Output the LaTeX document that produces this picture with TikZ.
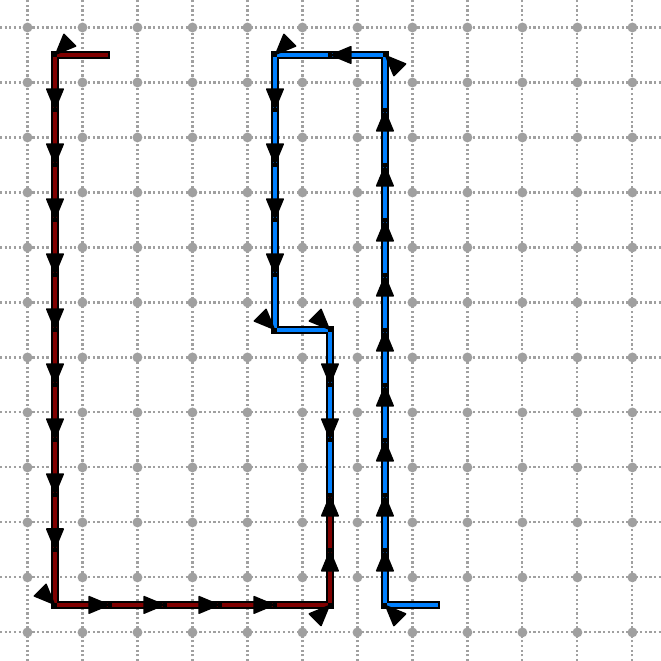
\documentclass[tikz,border=0pt]{standalone}
\usetikzlibrary{calc}

\definecolor{pathred}{RGB}{128,0,0}
\definecolor{pathblue}{RGB}{0,128,255}
\definecolor{gridgray}{RGB}{160,160,160}

\begin{document}
\begin{tikzpicture}[
    gridline/.style={gridgray, line width=1.1pt, dash pattern=on 1.1pt off 1.3pt},
    griddot/.style={circle, fill=gridgray, inner sep=0pt, minimum size=0.18cm},
    outline/.style={black, line width=4pt},
    redline/.style={pathred, line width=1.8pt, shorten <=0.035cm, shorten >=0.035cm},
    blueline/.style={pathblue, line width=1.8pt, shorten <=0.035cm, shorten >=0.035cm},
    pathtip/.pic={\filldraw[black, line width=0.8pt, line join=round]
        (-0.02,0) -- (-0.38,0.15) -- (-0.38,-0.15) -- cycle;}
]

\useasboundingbox (0,-0.02) rectangle (12.02,12);

% Grid
\foreach \k in {0,...,11} {
    \draw[gridline] (\k+0.5,-0.02) -- (\k+0.5,12);
    \draw[gridline] (0,\k+0.5) -- (12.02,\k+0.5);
}
\foreach \i in {0,...,11}
    \foreach \j in {0,...,11}
        \node[griddot] (dot-\i-\j) at (\i+0.5,\j+0.5) {};

% Corners
\coordinate (redstart) at (2,11);
\coordinate (redtl) at (1,11);
\coordinate (redbl) at (1,1);
\coordinate (redbr) at (6,1);
\coordinate (meet) at (6,3);
\coordinate (bluestart) at (8,1);
\coordinate (bluebr) at (7,1);
\coordinate (bluetr) at (7,11);
\coordinate (bluetl) at (5,11);
\coordinate (bluemidl) at (5,6);
\coordinate (bluemidr) at (6,6);

% Blue path
\draw[outline] (bluestart) -- (bluebr) -- (bluetr) -- (bluetl) -- (bluemidl) -- (bluemidr) -- (meet);
\draw[blueline] (bluestart) -- (bluebr);
\foreach \y in {1,...,10}
    \draw[blueline] (7,\y) -- (7,\y+1);
\foreach \x in {7,6}
    \draw[blueline] (\x,11) -- (\x-1,11);
\foreach \y in {11,...,7}
    \draw[blueline] (5,\y) -- (5,\y-1);
\draw[blueline] (bluemidl) -- (bluemidr);
\foreach \y in {6,5,4}
    \draw[blueline] (6,\y) -- (6,\y-1);

\pic[rotate=135] at (bluebr) {pathtip};
\foreach \y in {2,...,10}
    \pic[rotate=90] at (7,\y) {pathtip};
\pic[rotate=135] at (bluetr) {pathtip};
\pic[rotate=180] at (6,11) {pathtip};
\pic[rotate=-135] at (bluetl) {pathtip};
\foreach \y in {10,...,7}
    \pic[rotate=-90] at (5,\y) {pathtip};
\pic[rotate=-45] at (bluemidl) {pathtip};
\pic[rotate=-45] at (bluemidr) {pathtip};
\foreach \y in {5,4}
    \pic[rotate=-90] at (6,\y) {pathtip};

% Red path
\draw[outline] (redstart) -- (redtl) -- (redbl) -- (redbr) -- (meet);
\draw[redline] (redstart) -- (redtl);
\foreach \y in {11,...,2}
    \draw[redline] (1,\y) -- (1,\y-1);
\foreach \x in {1,...,5}
    \draw[redline] (\x,1) -- (\x+1,1);
\foreach \y in {1,2}
    \draw[redline] (6,\y) -- (6,\y+1);

\pic[rotate=-135] at (redtl) {pathtip};
\foreach \y in {10,...,2}
    \pic[rotate=-90] at (1,\y) {pathtip};
\pic[rotate=-45] at (redbl) {pathtip};
\foreach \x in {2,...,5}
    \pic at (\x,1) {pathtip};
\pic[rotate=45] at (redbr) {pathtip};
\foreach \y in {2,3}
    \pic[rotate=90] at (6,\y) {pathtip};

\end{tikzpicture}
\end{document}
